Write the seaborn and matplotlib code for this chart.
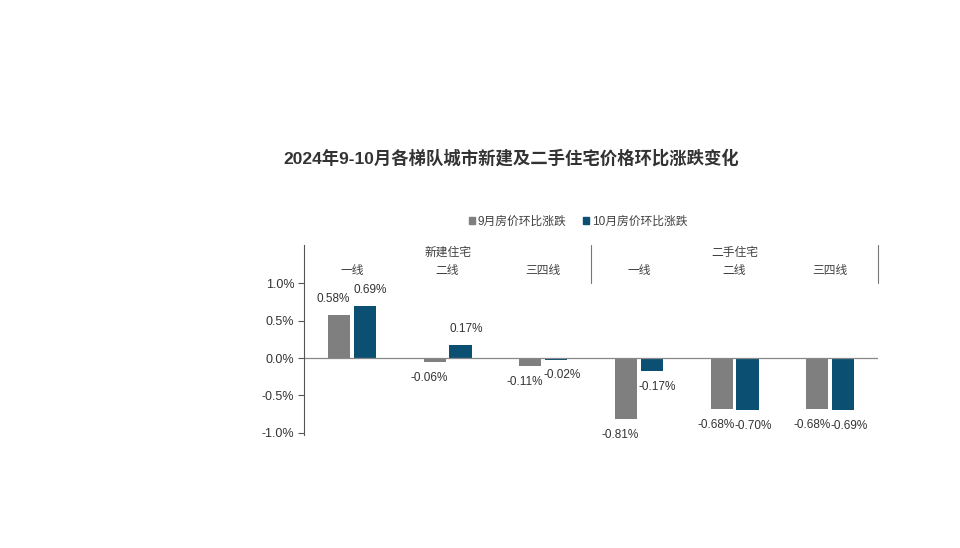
import matplotlib
matplotlib.use("Agg")
import matplotlib.pyplot as plt
import numpy as np
import pandas as pd
import seaborn as sns

# data
segments = ["新建住宅", "二手住宅"]
tiers = ["一线", "二线", "三四线"]
series = ["9月房价环比涨跌", "10月房价环比涨跌"]
sep_values = [0.58, -0.06, -0.11, -0.81, -0.68, -0.68]
oct_values = [0.69, 0.17, -0.02, -0.17, -0.70, -0.69]
yticks = [1.0, 0.5, 0.0, -0.5, -1.0]

sns.set_style("white")
plt.rcParams['font.family'] = ['Liberation Sans', 'Noto Sans CJK SC', 'DejaVu Sans']
plt.rcParams['axes.unicode_minus'] = False

cats = [s + t for s in segments for t in tiers]
df = pd.DataFrame({
    "cat": cats * 2,
    "series": [series[0]] * 6 + [series[1]] * 6,
    "value": sep_values + oct_values,
})

colors = ["#7f7f7f", "#0b5072"]

fig = plt.figure(figsize=(9.6, 5.48), dpi=100)
ax = fig.add_axes([0.3167, 0.2062, 0.598, 0.3467])
sns.barplot(data=df, x="cat", y="value", hue="series", palette=colors,
            width=0.54, gap=0.14, ax=ax, legend=False, saturation=1, linewidth=0)

ax.set_xlim(-0.5, 5.5)
ax.set_ylim(-1.027, 1.507)
ax.set_yticks(yticks)
ax.set_yticklabels([f"{v:.1f}%" for v in yticks], fontsize=9, color="#333333")
ax.tick_params(axis="y", direction="out", length=4, width=0.8, color="#555555", left=True, pad=3)
ax.set_xticks([])
ax.set_xlabel("")
ax.set_ylabel("")
for s in ["top", "right", "bottom"]:
    ax.spines[s].set_visible(False)
ax.spines["left"].set_color("#555555")
ax.spines["left"].set_linewidth(0.8)

ax.axhline(0, color="#888888", lw=0.9, zorder=1)
ax.plot([2.5, 2.5], [1.0, 1.507], color="#777777", lw=0.8, clip_on=False)
ax.plot([5.5, 5.5], [1.0, 1.507], color="#777777", lw=0.8, clip_on=False)

# group and tier labels at the top of the plot
for i, seg in enumerate(segments):
    ax.text(i * 3 + 1, 1.40, seg, ha="center", va="center", fontsize=8.5, color="#404040")
    for j, t in enumerate(tiers):
        ax.text(i * 3 + j, 1.16, t, ha="center", va="center", fontsize=8.5, color="#404040")

# value labels
for k, cont in enumerate(ax.containers):
    vals = sep_values if k == 0 else oct_values
    dx = -4 if k == 0 else 4
    for bar, v in zip(cont, vals):
        xc = bar.get_x() + bar.get_width() / 2
        dy = 11.5 if v >= 0 else -11.5
        ax.annotate(f"{v:.2f}%", (xc, v), xytext=(dx, dy), textcoords="offset points",
                    ha="center", va="center", fontsize=8.5, color="#333333")

handles = [plt.Rectangle((0, 0), 1, 1, color=c) for c in colors]
fig.legend(handles, series, loc="center", bbox_to_anchor=(0.602, 0.595), ncol=2,
           frameon=False, fontsize=8.5, handlelength=0.55, handleheight=0.55,
           handletextpad=0.2, columnspacing=1.4, labelcolor="#404040")

fig.text(0.533, 0.713, "2024年9-10月各梯队城市新建及二手住宅价格环比涨跌变化",
         ha="center", va="center", fontsize=12.5, fontweight="bold", color="#333333")

fig.savefig("out.png", dpi=100)
